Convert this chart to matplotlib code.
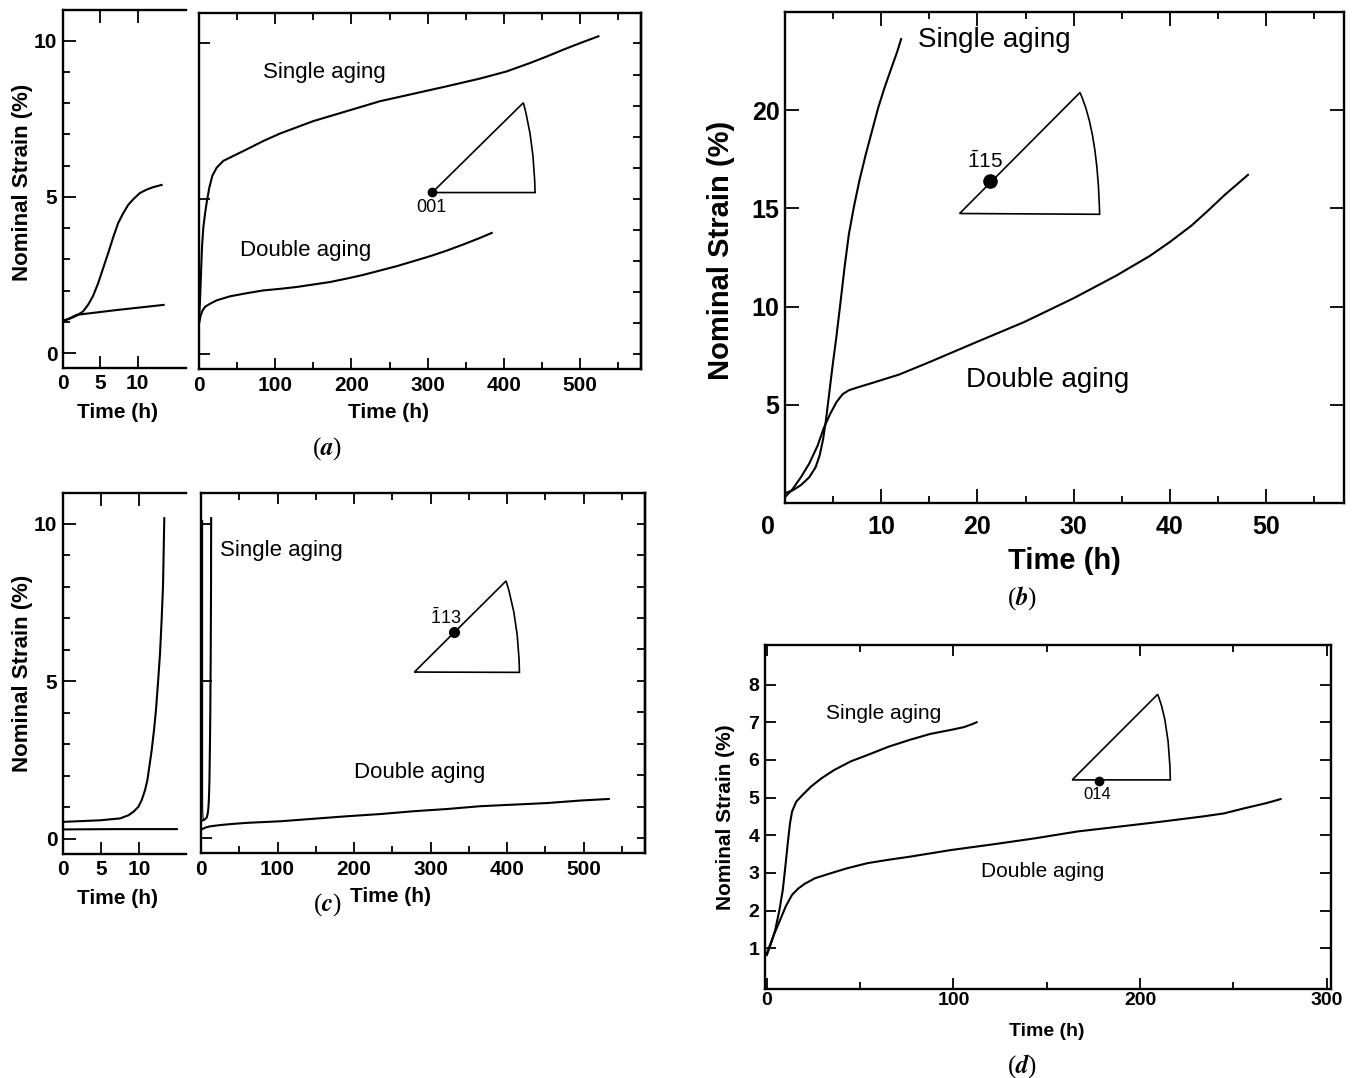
import numpy as np
import matplotlib
matplotlib.use("Agg")
import matplotlib.pyplot as plt
from matplotlib.path import Path
from matplotlib.patches import PathPatch
from matplotlib.ticker import MultipleLocator, FixedLocator
from matplotlib.transforms import ScaledTranslation

plt.rcParams['font.family'] = ['Liberation Sans', 'DejaVu Sans']
plt.rcParams['font.weight'] = 'bold'
plt.rcParams['axes.labelweight'] = 'bold'
# math font for the barred Miller indices
plt.rcParams['mathtext.rm'] = 'Liberation Sans:weight=normal'
plt.rcParams['mathtext.it'] = 'Liberation Sans:italic:weight=normal'
plt.rcParams['mathtext.bf'] = 'Liberation Sans:weight=bold'

# ---------------- curves ----------------
# (a) 001 : first hours (left box) and full test (right box)
a_short_single_t = [0, 0.9, 1.79, 2.69, 3.36, 4.04, 4.71, 5.38, 6.05, 6.73, 7.4, 8.07,
                    8.74, 9.42, 10.31, 11.21, 12.11, 13.23]
a_short_single_y = [1.04, 1.1, 1.19, 1.33, 1.54, 1.83, 2.23, 2.71, 3.19, 3.70, 4.16, 4.47,
                    4.74, 4.92, 5.12, 5.23, 5.31, 5.38]
a_short_double_t = [0, 1.8, 7.0, 13.5]
a_short_double_y = [1.0, 1.22, 1.37, 1.54]

a_single_t = [0, 1.31, 2.62, 3.94, 5.69, 7.87, 10.06, 13.56, 17.5, 23.2, 31.9, 45.1, 62.6,
              84.4, 106.3, 150, 193.8, 237.5, 281.3, 325, 368.8, 403.8, 434.4, 456.3,
              478.1, 500, 524.1]
a_single_y = [1.03, 1.73, 2.58, 3.44, 4.08, 4.51, 4.88, 5.36, 5.74, 6.0, 6.22, 6.38, 6.59,
              6.86, 7.1, 7.5, 7.82, 8.14, 8.38, 8.62, 8.87, 9.1, 9.37, 9.58, 9.8, 10.01, 10.23]
a_double_t = [0, 2.19, 4.81, 7.87, 14.4, 23.2, 40.7, 62.6, 84.4, 106.3, 128.2, 150, 171.9,
              193.8, 215.7, 237.5, 259.4, 281.3, 303.1, 325, 346.9, 368.8, 384.1]
a_double_y = [0.98, 1.24, 1.41, 1.52, 1.62, 1.73, 1.86, 1.96, 2.05, 2.1, 2.16, 2.24, 2.32,
              2.43, 2.55, 2.69, 2.83, 2.99, 3.15, 3.33, 3.53, 3.74, 3.9]

# (c) -113
c_single_t = [0, 4.87, 7.48, 8.57, 9.22, 9.87, 10.3, 10.74, 11.04, 11.3, 11.61, 11.91,
              12.17, 12.43, 12.7, 12.91, 13.09, 13.26]
c_single_y = [0.54, 0.59, 0.65, 0.75, 0.86, 1.02, 1.23, 1.55, 1.86, 2.29, 2.82, 3.45,
              4.09, 4.94, 5.89, 6.95, 8.01, 10.18]
c_short_double_t = [0, 7.0, 14.9]
c_short_double_y = [0.30, 0.31, 0.31]
c_trace_t = [2.1, 2.1, 2.6, 4.0]
c_trace_y = [10.1, 1.0, 0.65, 0.55]
c_double_t = [0, 5.7, 12.2, 25.3, 38.3, 60.1, 103.7, 147.2, 190.8, 234.3, 277.9, 321.4,
              365, 408.5, 452, 495.6, 532.7]
c_double_y = [0.26, 0.33, 0.37, 0.41, 0.44, 0.48, 0.53, 0.61, 0.69, 0.76, 0.85, 0.92,
              1.01, 1.06, 1.11, 1.19, 1.24]

# (b) -115
b_single_t = [0, 0.78, 1.65, 2.52, 3.17, 3.6, 3.95, 4.26, 4.56, 4.91, 5.34, 5.78, 6.21,
              6.64, 7.17, 7.73, 8.38, 9.03, 9.69, 10.34, 10.99, 11.64, 12.07]
b_single_y = [0.5, 0.64, 0.91, 1.31, 1.81, 2.42, 3.22, 4.23, 5.44, 6.85, 8.46, 10.27, 12.08,
              13.69, 15.1, 16.41, 17.72, 18.92, 20.13, 21.14, 22.05, 22.95, 23.62]
b_double_t = [0, 0.78, 1.65, 2.52, 3.39, 4.04, 4.69, 5.34, 5.99, 6.64, 7.51, 9.25, 11.86,
              14.9, 19.98, 24.89, 30.01, 34.44, 37.92, 40.0, 42.26, 44.0, 45.73, 47.04, 48.12]
b_double_y = [0.3, 0.7, 1.31, 2.01, 2.92, 3.83, 4.53, 5.13, 5.54, 5.74, 5.88, 6.14, 6.54,
              7.15, 8.21, 9.22, 10.43, 11.58, 12.58, 13.29, 14.13, 14.9, 15.7, 16.25, 16.71]

# (d) 014
d_single_t = [0, 2.25, 4.49, 6.74, 8.54, 10.1, 11.2, 12.4, 13.5, 15.7, 19.1, 23.6, 29.2,
              36.0, 44.9, 53.9, 65.2, 76.4, 87.6, 98.9, 105.6, 110.1, 112.4]
d_single_y = [0.82, 1.13, 1.49, 2.02, 2.55, 3.26, 3.79, 4.32, 4.63, 4.89, 5.07, 5.29, 5.51,
              5.73, 5.96, 6.13, 6.35, 6.53, 6.69, 6.80, 6.87, 6.95, 7.0]
d_double_t = [0, 3.37, 6.74, 10.1, 13.5, 16.9, 20.2, 25.8, 31.5, 42.7, 53.9, 65.2, 76.4,
              98.9, 121.3, 143.8, 166.3, 188.8, 211.2, 233.7, 244.9, 256.2, 267.4, 275.3]
d_double_y = [0.87, 1.31, 1.71, 2.11, 2.42, 2.59, 2.71, 2.86, 2.95, 3.12, 3.26, 3.35, 3.43,
              3.61, 3.76, 3.92, 4.10, 4.23, 4.36, 4.50, 4.58, 4.72, 4.85, 4.96]

# stereographic triangles: corners (left, top, right), arc control point, dot, label
a_tri_x, a_tri_y, a_arc = [306, 425.6, 441], [5.2, 8.09, 5.2], (439.6, 6.86)
a_dot, a_hkl, a_hkl_xy = (306, 5.22), "001", (305, 4.72)
c_tri_x, c_tri_y, c_arc = [278.7, 398.5, 416], [5.28, 8.18, 5.27], (415, 6.93)
c_dot, c_hkl, c_hkl_xy = (330, 6.54), r"$\bar{1}$13", (320, 7.0)
b_tri_x, b_tri_y, b_arc = [18.15, 30.66, 32.7], [14.74, 20.9, 14.7], (32.5, 18.9)
b_dot, b_hkl, b_hkl_xy = (21.3, 16.41), r"$\bar{1}$15", (20.76, 17.4)
d_tri_x, d_tri_y, d_arc = [163.6, 209.4, 216.2], [5.47, 7.74, 5.47], (215.7, 6.97)
d_dot, d_hkl, d_hkl_xy = (178.2, 5.45), "014", (176.9, 5.07)

W, H = 1356, 1078
fig = plt.figure(figsize=(W / 100, H / 100), dpi=100)


def add_ax(x0, y0, x1, y1):
    # pixel box (from top-left) -> figure fraction
    return fig.add_axes([x0 / W, 1 - y1 / H, (x1 - x0) / W, (y1 - y0) / H])


def frame(ax, fs, pad, major=8, minor=5):
    for sp in ax.spines.values():
        sp.set_linewidth(1.7)
    ax.tick_params(which='both', direction='in', top=True, right=True,
                   width=1.3, labelsize=fs, pad=pad)
    ax.tick_params(which='major', length=major)
    ax.tick_params(which='minor', length=minor)


def labels(ax, xl, yl, fs_x, fs_y):
    if xl is not None:
        ax.set_xlabel("Time (h)", fontsize=fs_x)
        ax.xaxis.set_label_coords(*xl)
        ax.xaxis.label.set_va('center')
    if yl is not None:
        ax.set_ylabel("Nominal Strain (%)", fontsize=fs_y)
        ax.yaxis.set_label_coords(*yl)
        ax.yaxis.label.set_va('center')


def triangle(ax, tx, ty, arc, dot, hkl, hkl_xy, ms, fs):
    verts = [(tx[0], ty[0]), (tx[1], ty[1]), arc, (tx[2], ty[2]), (tx[0], ty[0])]
    codes = [Path.MOVETO, Path.LINETO, Path.CURVE3, Path.CURVE3, Path.LINETO]
    ax.add_patch(PathPatch(Path(verts, codes), fill=False, lw=1.2, ec='k'))
    ax.plot(dot[0], dot[1], 'o', color='k', ms=ms)
    ax.text(hkl_xy[0], hkl_xy[1], hkl, fontsize=fs, fontweight='normal',
            math_fontfamily='custom', ha='center', va='center')


def short_box(ax, xmax):
    frame(ax, 15, 4, major=9, minor=5)
    ax.spines['right'].set_visible(False)
    ax.tick_params(which='both', right=False)
    ax.set_xlim(0, xmax)
    ax.set_ylim(-0.48, 10.98)
    ax.xaxis.set_major_locator(FixedLocator([0, 5, 10]))
    ax.yaxis.set_major_locator(FixedLocator([0, 5, 10]))
    ax.yaxis.set_minor_locator(MultipleLocator(1))


def long_box(ax):
    frame(ax, 15, 5, major=8, minor=5)
    ax.set_xlim(0, 580)
    ax.set_ylim(-0.48, 10.98)
    ax.xaxis.set_major_locator(MultipleLocator(100))
    ax.xaxis.set_minor_locator(MultipleLocator(50))
    ax.yaxis.set_major_locator(FixedLocator([0, 5, 10]))
    ax.tick_params(which='both', right=False, labelleft=False)
    sec = ax.secondary_yaxis('right')
    sec.yaxis.set_major_locator(MultipleLocator(1))
    sec.tick_params(direction='in', length=6, width=1.3, labelright=False)
    sec.spines['right'].set_linewidth(1.7)


lw = 1.5
note = dict(fontweight='normal', ha='left', va='center')

# ---------------- (a) ----------------
ax = add_ax(63, 10, 186, 368)
short_box(ax, 16.5)
ax.plot(a_short_single_t, a_short_single_y, 'k-', lw=lw)
ax.plot(a_short_double_t, a_short_double_y, 'k-', lw=lw)
labels(ax, (0.44, -0.123), (-0.333, 0.518), 15, 16)

ax = add_ax(199, 13, 641, 369)
long_box(ax)
ax.plot(a_single_t, a_single_y, 'k-', lw=lw)
ax.plot(a_double_t, a_double_y, 'k-', lw=lw)
ax.text(84.4, 9.05, "Single aging", fontsize=16, **note)
ax.text(53.8, 3.33, "Double aging", fontsize=16, **note)
triangle(ax, a_tri_x, a_tri_y, a_arc, a_dot, a_hkl, a_hkl_xy, 6, 13)
labels(ax, (0.428, -0.121), None, 15, 16)

# ---------------- (c) ----------------
ax = add_ax(63, 493, 186, 854)
short_box(ax, 16.1)
ax.plot(c_single_t, c_single_y, 'k-', lw=lw)
ax.plot(c_short_double_t, c_short_double_y, 'k-', lw=lw)
labels(ax, (0.447, -0.122), (-0.333, 0.501), 15, 16)

ax = add_ax(201, 493, 645, 853)
long_box(ax)
ax.plot(c_single_t, c_single_y, 'k-', lw=lw)
ax.plot(c_trace_t, c_trace_y, 'k-', lw=0.8)
ax.plot(c_double_t, c_double_y, 'k-', lw=lw)
ax.text(25.3, 9.15, "Single aging", fontsize=16, **note)
ax.text(199.5, 2.08, "Double aging", fontsize=16, **note)
triangle(ax, c_tri_x, c_tri_y, c_arc, c_dot, c_hkl, c_hkl_xy, 7, 13)
labels(ax, (0.426, -0.122), None, 15, 16)

# ---------------- (b) ----------------
ax = add_ax(785, 12, 1344, 503)
frame(ax, 18, 9, major=10, minor=5)
ax.set_xlim(0, 58.1)
ax.set_ylim(0, 25)
ax.xaxis.set_major_locator(FixedLocator([0, 10, 20, 30, 40, 50]))
ax.xaxis.set_minor_locator(MultipleLocator(5))
ax.yaxis.set_major_locator(FixedLocator([5, 10, 15, 20]))
ax.tick_params(axis='y', pad=4)
ax.plot(b_single_t, b_single_y, 'k-', lw=lw)
ax.plot(b_double_t, b_double_y, 'k-', lw=lw)
ax.text(13.8, 23.55, "Single aging", fontsize=20, **note)
ax.text(18.8, 6.24, "Double aging", fontsize=20, **note)
triangle(ax, b_tri_x, b_tri_y, b_arc, b_dot, b_hkl, b_hkl_xy, 9.5, 15)
labels(ax, (0.5, -0.118), (-0.114, 0.515), 21, 21)
# the "0" sits at the corner, a little left of the axis
lab0 = ax.xaxis.get_major_ticks()[0].label1
lab0.set_transform(lab0.get_transform() + ScaledTranslation(-0.17, 0, fig.dpi_scale_trans))

# ---------------- (d) ----------------
ax = add_ax(765, 645, 1331, 989)
frame(ax, 14, 2, major=8, minor=5)
ax.set_xlim(-1, 302.3)
ax.set_ylim(-0.08, 9.05)
ax.xaxis.set_major_locator(MultipleLocator(100))
ax.xaxis.set_minor_locator(MultipleLocator(50))
ax.yaxis.set_major_locator(FixedLocator(range(1, 9)))
ax.tick_params(axis='y', pad=4)
ax.plot(d_single_t, d_single_y, 'k-', lw=lw)
ax.plot(d_double_t, d_double_y, 'k-', lw=lw)
ax.text(31.5, 7.24, "Single aging", fontsize=15, **note)
ax.text(114.6, 3.04, "Double aging", fontsize=15, **note)
triangle(ax, d_tri_x, d_tri_y, d_arc, d_dot, d_hkl, d_hkl_xy, 6, 12)
labels(ax, (0.498, -0.124), (-0.069, 0.4985), 14, 15)

# panel captions
for name, (x, y) in zip("abcd", [(327, 449), (1022, 598), (327, 905), (1022, 1066)]):
    fig.text(x / W, 1 - y / H, r"($\mathit{%s}$)" % name, family='Liberation Serif',
             math_fontfamily='stix', fontsize=18, fontweight='normal',
             ha='center', va='center')

fig.savefig("out.png", dpi=100)
